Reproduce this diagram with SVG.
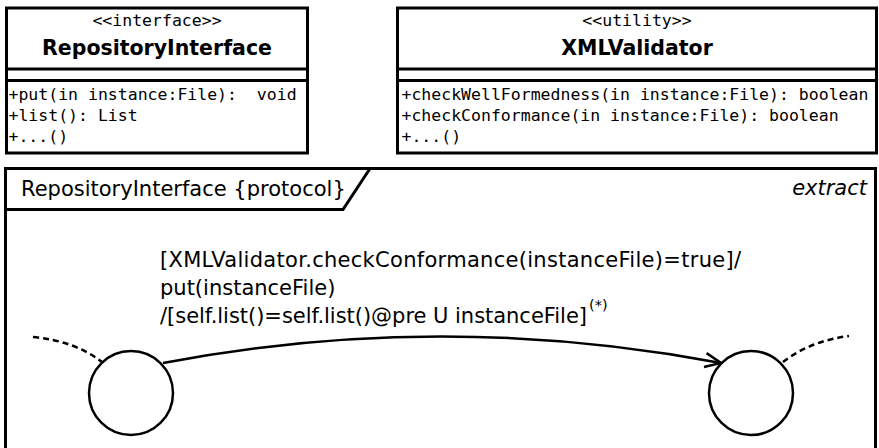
<svg xmlns="http://www.w3.org/2000/svg" width="879" height="448" viewBox="0 0 879 448">
<style>
.box{fill:#fff;stroke:#000;stroke-width:3}
.sep{stroke:#000;stroke-width:3}
.mono{font-family:"DejaVu Sans Mono","Liberation Mono",monospace;font-size:16.5px;fill:#000}
.bold{font-family:"DejaVu Sans","Liberation Sans",sans-serif;font-size:20.5px;font-weight:bold;fill:#000}
.reg{font-family:"DejaVu Sans","Liberation Sans",sans-serif;font-size:21px;fill:#000}
.sup{font-family:"DejaVu Sans","Liberation Sans",sans-serif;font-size:14.5px;fill:#000}
.state{fill:#fff;stroke:#000;stroke-width:2.5}
.edge{fill:none;stroke:#000;stroke-width:2.5}
.dash{fill:none;stroke:#000;stroke-width:2.5;stroke-dasharray:6 4}
</style>
<defs>
<marker id="open" viewBox="0 0 20 20" refX="18" refY="10" markerWidth="20" markerHeight="20" markerUnits="userSpaceOnUse" orient="auto">
<path d="M2,3 L18,10 L2,17" fill="none" stroke="#000" stroke-width="2.5"/>
</marker>
</defs>
<rect width="879" height="448" fill="#fff"/>
<g id="RepositoryInterface">
<rect class="box" x="6.5" y="8" width="301" height="145"/>
<line class="sep" x1="6.5" y1="69" x2="307.5" y2="69"/>
<line class="sep" x1="6.5" y1="80.5" x2="307.5" y2="80.5"/>
<text class="mono" x="157" y="26" text-anchor="middle">&lt;&lt;interface&gt;&gt;</text>
<text class="bold" x="157" y="55" text-anchor="middle">RepositoryInterface</text>
<text class="mono" x="8.5" y="100" xml:space="preserve">+put(in instance:File):  void</text>
<text class="mono" x="8.5" y="121">+list(): List</text>
<text class="mono" x="8.5" y="142">+...()</text>
</g>
<g id="XMLValidator">
<rect class="box" x="397.5" y="8" width="479" height="145"/>
<line class="sep" x1="397.5" y1="69" x2="876.5" y2="69"/>
<line class="sep" x1="397.5" y1="80.5" x2="876.5" y2="80.5"/>
<text class="mono" x="637" y="26" text-anchor="middle">&lt;&lt;utility&gt;&gt;</text>
<text class="bold" x="637" y="55" text-anchor="middle">XMLValidator</text>
<text class="mono" x="401.5" y="100">+checkWellFormedness(in instance:File): boolean</text>
<text class="mono" x="401.5" y="121">+checkConformance(in instance:File): boolean</text>
<text class="mono" x="401.5" y="142">+...()</text>
</g>
<g id="protocolFrame">
<rect class="box" x="5.5" y="168.5" width="870" height="290"/>
<path d="M5.5,209.5 L343,209.5 L370,168.5" fill="none" stroke="#000" stroke-width="3"/>
<text class="reg" x="21" y="196">RepositoryInterface {protocol}</text>
<text class="reg" x="867" y="195" text-anchor="end" font-style="italic">extract</text>
</g>
<g id="stateA">
<circle class="state" cx="131" cy="393" r="42"/>
</g>
<g id="stateB">
<circle class="state" cx="751" cy="393" r="42"/>
</g>
<g id="connectors">
<path class="dash" d="M33,337 Q75,341 102,362"/>
<path class="dash" d="M783,362 Q810,341 849,336"/>
<path class="edge" d="M163,363 Q440,310 721,363" marker-end="url(#open)"/>
<text class="reg" x="160" y="267" textLength="581" lengthAdjust="spacing">[XMLValidator.checkConformance(instanceFile)=true]/</text>
<text class="reg" x="160" y="295">put(instanceFile)</text>
<text class="reg" x="160" y="323" textLength="427" lengthAdjust="spacing">/[self.list()=self.list()@pre U instanceFile]</text>
<text class="sup" x="589" y="310">(*)</text>
</g>
</svg>
